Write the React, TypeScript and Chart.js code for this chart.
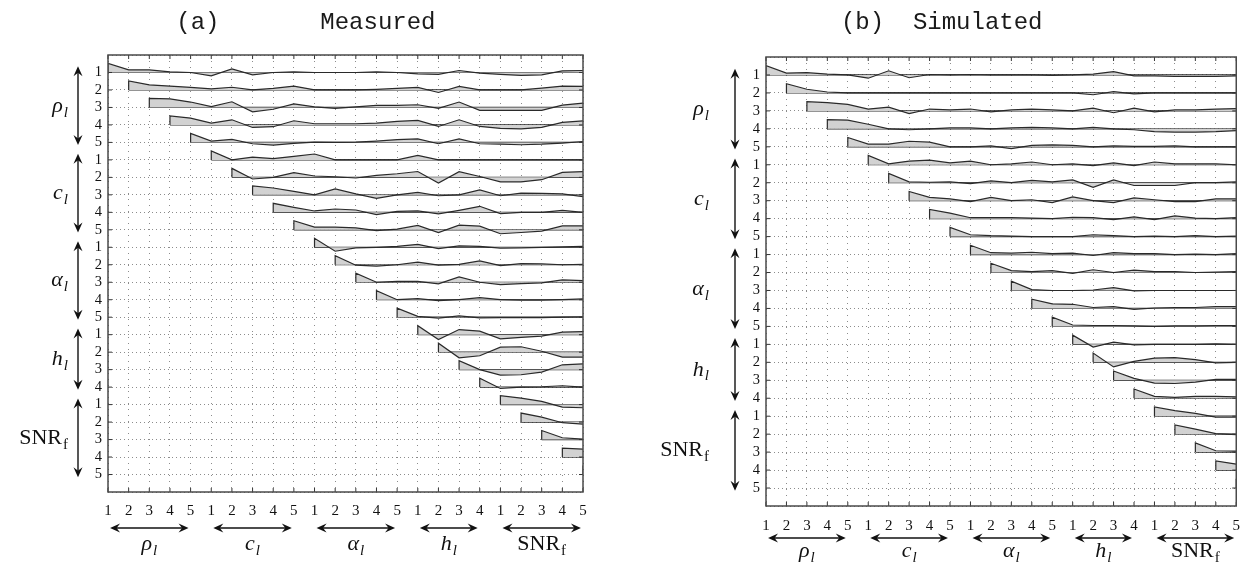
import { useEffect, useRef } from "react";
import { Chart, registerables } from "chart.js";

Chart.register(...registerables);

// ---------- data ----------
const groupBases = ["ρ", "c", "α", "h", "SNR"];
const groupSubs = ["l", "l", "l", "l", "f"];
const groupItalic = [true, true, true, true, false];
const groupSizes = [5, 5, 5, 4, 5];
const tickLabels = [
  "1", "2", "3", "4", "5",
  "1", "2", "3", "4", "5",
  "1", "2", "3", "4", "5",
  "1", "2", "3", "4",
  "1", "2", "3", "4", "5",
];

// row r holds the profile values for columns r..23 (diagonal = 1)
const measuredRows: number[][] = [
  [1, 0.3, 0.3, 0.07, 0, -0.37, 0.4, -0.26, 0, 0.07, 0, 0, 0, 0.07, 0, -0.15, -0.22, 0.22, -0.07, -0.22, -0.33, -0.26, 0.18, 0.22],
  [1, 0.57, 0.43, 0.28, 0.13, 0.3, 0, 0.17, 0.43, 0, 0, 0, 0.07, 0.17, 0.28, -0.28, 0.39, 0, 0, 0, 0.2, 0.43, 0.39],
  [1, 0.96, 0.6, 0.1, 0.63, -0.48, -0.2, 0.4, 0.07, -0.1, 0.07, 0.22, 0.22, 0.3, -0.1, 0.6, -0.33, -0.33, -0.33, -0.33, 0.26, 0.48],
  [1, 0.76, 0.2, 0.57, -0.28, -0.2, 0.46, 0.13, 0.13, 0.13, 0.2, 0.39, 0.5, -0.17, 0.57, -0.17, -0.39, -0.43, -0.28, 0.28, 0.46],
  [1, 0.15, 0.33, -0.15, -0.3, -0.1, 0.04, 0, 0.04, 0.15, 0.3, 0.4, -0.15, 0.4, -0.15, -0.2, -0.26, -0.2, -0.07, 0.1],
  [1, 0, 0.3, 0.13, 0.39, 0.65, 0, 0, 0, 0, 0.5, 0, 0, 0, 0, 0, 0, 0, 0],
  [1, -0.18, 0, 0.52, 0.15, 0.07, -0.07, 0.22, 0.4, 0.65, -0.63, 0.63, 0.1, -0.5, -0.5, -0.26, 0.55, 0.63],
  [1, 0.76, 0.39, 0, 0.65, 0.1, -0.39, 0, 0.28, -0.1, 0, 0.54, -0.1, 0.2, 0.17, 0.1, -0.2],
  [1, 0.55, 0.15, 0.37, 0.26, -0.26, 0.1, 0.15, -0.18, 0.22, 0.67, -0.15, 0, 0, 0.22, 0],
  [1, 0.3, 0.3, 0.22, -0.1, 0.07, 0.48, -0.3, 0.52, 0.4, -0.44, -0.3, -0.15, 0.44, 0.44],
  [1, -0.44, -0.07, 0, 0.1, 0.33, -0.15, 0.15, 0.1, -0.1, -0.07, 0, 0.04, 0.1],
  [1, -0.05, -0.15, 0, 0.3, -0.05, 0.05, 0.42, -0.1, 0.13, 0.1, 0, 0.05],
  [1, 0, 0.1, 0.1, -0.18, 0.6, 0, -0.26, -0.15, -0.07, 0.26, 0.18],
  [1, 0, 0.12, -0.1, 0, 0.24, 0, -0.05, -0.05, 0, 0.1],
  [1, 0.1, -0.1, 0.15, -0.07, -0.05, -0.04, -0.04, 0, 0.04],
  [1, -0.54, 0.57, 0.39, -0.46, -0.3, -0.17, 0.28, 0.35],
  [1, -0.63, -0.4, 0.55, 0.6, 0.1, -0.55, -0.55],
  [1, 0, -0.6, -0.57, -0.28, 0.54, 0.65],
  [1, -0.15, 0, 0.04, 0.15, 0],
  [1, 0.72, 0.35, -0.28, -0.35],
  [1, 0.55, -0.07, -0.22],
  [1, 0.2, 0.05],
  [1, 0.88],
  [1],
];

const simulatedRows: number[][] = [
  [1, 0.2, 0.25, 0.1, 0, -0.35, 0.45, -0.3, 0.05, 0, 0.05, 0, 0, 0, -0.05, 0, 0.1, 0.35, -0.1, -0.1, -0.15, -0.15, -0.15, -0.1],
  [1, 0.4, 0.1, 0, 0, 0, 0, 0, 0, 0, 0, 0, 0, 0, 0, -0.2, 0.15, -0.1, 0, 0, 0, 0, 0],
  [1, 0.9, 0.7, 0.2, 0.4, -0.3, 0.2, 0.1, 0.2, -0.1, 0.1, 0.2, 0.1, 0, 0.3, -0.2, 0.3, -0.1, 0.1, 0.1, 0.2, 0.25],
  [1, 0.95, 0.5, 0, -0.1, 0, 0.1, 0.1, 0, 0.1, 0.15, 0.1, 0, 0.15, 0, -0.1, -0.3, -0.35, -0.35, -0.3, -0.2],
  [1, 0.3, 0.3, 0.6, 0.5, 0, 0, 0.1, -0.2, 0.15, 0.2, 0.15, 0, 0.1, 0.05, 0.05, 0.1, 0, 0, 0],
  [1, 0.1, 0.4, 0.5, 0.2, 0.4, 0, 0.1, 0.3, 0, 0.1, -0.1, 0.2, -0.1, 0.3, 0.1, 0.1, 0.1, 0],
  [1, 0.1, 0.05, 0.1, -0.1, 0.2, 0, 0.25, 0.1, 0.3, -0.5, 0.3, -0.3, -0.3, -0.3, 0, 0, 0.1],
  [1, 0.35, 0.2, -0.1, 0.35, 0, 0.1, -0.2, 0.4, 0, -0.2, 0.3, 0.1, -0.1, -0.1, 0.2, 0.2],
  [1, 0.6, 0.1, 0.1, 0.1, 0.05, 0, 0.15, 0.1, -0.1, 0.2, -0.1, 0.3, 0.05, 0, 0.1],
  [1, 0.2, 0.1, 0.05, 0, 0, 0, 0.2, 0.1, 0, 0.05, 0, 0.1, 0, 0.05],
  [1, 0.2, 0.15, 0.25, 0.1, 0.15, -0.1, 0.2, 0.1, 0.1, 0, 0.05, 0, 0.1],
  [1, 0.2, 0.1, 0.2, -0.1, 0.3, 0, 0.25, 0.1, 0.1, 0, 0.05, 0.1],
  [1, 0.1, 0, 0, 0.05, 0.3, -0.05, 0, 0, 0, 0, 0],
  [1, 0.5, 0.45, 0.1, 0.2, -0.1, 0.05, 0.1, 0.1, 0.2, 0.2],
  [1, 0.15, 0.1, 0.1, 0.05, 0, 0.05, 0.05, 0.1, 0.1],
  [1, -0.3, 0.25, -0.05, 0, 0, 0, 0.05, 0],
  [1, -0.5, 0.1, 0.45, 0.5, 0.3, -0.05, 0],
  [1, 0.2, -0.3, -0.35, -0.2, 0.1, 0.1],
  [1, 0.2, 0.1, 0.2, 0.2, 0.15],
  [1, 0.6, 0.3, -0.1, -0.1],
  [1, 0.55, 0.05, -0.05],
  [1, 0.15, 0.1],
  [1, 0.65],
  [1],
];

// ---------- styling ----------
const PROFILE_SCALE = 0.515; // rows per unit of correlation
const FILL = "#d2d2d2";
const LINE = "#2a2a2a";
const GRID = "#8c8c8c";
const SERIF = '"Liberation Serif", "DejaVu Serif", serif';

function buildDatasets(rows: number[][]) {
  const ds: any[] = [];
  rows.forEach((vals, r) => {
    const pts = [{ x: r, y: r }, ...vals.map((v, j) => ({ x: r + j, y: r - PROFILE_SCALE * v }))];
    ds.push({
      data: pts,
      fill: { value: r },
      backgroundColor: FILL,
      borderColor: LINE,
      borderWidth: 1.2,
      pointRadius: 0,
      tension: 0,
    });
    ds.push({
      data: [{ x: r, y: r }, { x: rows.length - 1, y: r }],
      fill: false,
      borderColor: LINE,
      borderWidth: 1.2,
      pointRadius: 0,
    });
  });
  return ds;
}

function drawArrow(ctx: CanvasRenderingContext2D, x1: number, y1: number, x2: number, y2: number) {
  const ang = Math.atan2(y2 - y1, x2 - x1);
  const L = 10, W = 4.5, N = 6.5;
  const head = (tx: number, ty: number, a: number) => {
    const c = Math.cos(a), s = Math.sin(a);
    ctx.beginPath();
    ctx.moveTo(tx, ty);
    ctx.lineTo(tx - L * c - W * s, ty - L * s + W * c);
    ctx.lineTo(tx - N * c, ty - N * s);
    ctx.lineTo(tx - L * c + W * s, ty - L * s - W * c);
    ctx.closePath();
    ctx.fill();
  };
  ctx.beginPath();
  ctx.moveTo(x1 + 5 * Math.cos(ang), y1 + 5 * Math.sin(ang));
  ctx.lineTo(x2 - 5 * Math.cos(ang), y2 - 5 * Math.sin(ang));
  ctx.stroke();
  head(x2, y2, ang);
  head(x1, y1, ang + Math.PI);
}

function drawGroupLabel(ctx: CanvasRenderingContext2D, g: number, x: number, y: number, align: string, size: number) {
  const it = groupItalic[g] ? "italic " : "";
  const bf = `${it}${size}px ${SERIF}`;
  const sf = `${it}${Math.round(size * 0.68)}px ${SERIF}`;
  ctx.font = bf;
  const wb = ctx.measureText(groupBases[g]).width;
  ctx.font = sf;
  const ws = ctx.measureText(groupSubs[g]).width;
  const total = wb + ws + 1;
  const x0 = align === "right" ? x - total : x - total / 2;
  ctx.textAlign = "left";
  ctx.textBaseline = "alphabetic";
  ctx.font = bf;
  ctx.fillText(groupBases[g], x0, y);
  ctx.font = sf;
  ctx.fillText(groupSubs[g], x0 + wb + 1, y + size * 0.22);
}

const decorPlugin = {
  id: "decor",
  afterDraw(chart: any, _args: any, opts: any) {
    const { ctx, chartArea: a, scales } = chart;
    const xs = scales.x, ys = scales.y;
    const n = tickLabels.length;
    ctx.save();
    // inner tick marks
    ctx.strokeStyle = "#333";
    ctx.lineWidth = 1;
    ctx.beginPath();
    for (let i = 0; i < n; i++) {
      const px = xs.getPixelForValue(i);
      ctx.moveTo(px, a.top);
      ctx.lineTo(px, a.top + 4);
      ctx.moveTo(px, a.bottom);
      ctx.lineTo(px, a.bottom - 4);
      const py = ys.getPixelForValue(i);
      ctx.moveTo(a.left, py);
      ctx.lineTo(a.left + 4, py);
      ctx.moveTo(a.right, py);
      ctx.lineTo(a.right - 4, py);
    }
    ctx.stroke();
    // frame
    ctx.strokeStyle = "#4a4a4a";
    ctx.lineWidth = 1.5;
    ctx.strokeRect(a.left, a.top, a.right - a.left, a.bottom - a.top);
    // group arrows and labels
    ctx.fillStyle = "#111";
    ctx.strokeStyle = "#111";
    ctx.lineWidth = 1.4;
    let start = 0;
    groupSizes.forEach((size, g) => {
      const end = start + size - 1;
      const ax = a.left - opts.leftArrow;
      const y1 = ys.getPixelForValue(start - 0.35);
      const y2 = ys.getPixelForValue(end + 0.15);
      drawArrow(ctx, ax, y1, ax, y2);
      drawGroupLabel(ctx, g, a.left - opts.leftLabel, (y1 + y2) / 2 + 6, "right", 22);
      const bx1 = xs.getPixelForValue(start + 0.1);
      const bx2 = xs.getPixelForValue(end - 0.1);
      const by = a.bottom + opts.bottomArrow;
      drawArrow(ctx, bx1, by, bx2, by);
      drawGroupLabel(ctx, g, (bx1 + bx2) / 2, a.bottom + opts.bottomLabel, "center", 22);
      start += size;
    });
    ctx.restore();
  },
};

function makeConfig(rows: number[][], title: string, p: any) {
  const n = tickLabels.length;
  return {
    type: "line" as const,
    data: { datasets: buildDatasets(rows) },
    plugins: [decorPlugin],
    options: {
      animation: false as const,
      responsive: false,
      devicePixelRatio: 1,
      layout: { padding: { left: 0, right: p.padRight, top: 0, bottom: 0 } },
      plugins: {
        legend: { display: false },
        tooltip: { enabled: false },
        title: {
          display: true,
          text: title,
          color: "#1a1a1a",
          font: { family: '"Liberation Mono", "DejaVu Sans Mono", monospace', size: p.titleSize, weight: "normal" as const },
          padding: { top: p.titleTop, bottom: p.titleBottom },
        },
        decor: p.decor,
      },
      scales: {
        x: {
          type: "linear" as const,
          min: 0,
          max: n - 1,
          afterFit: (s: any) => { s.height = p.xAxisHeight; },
          afterBuildTicks: (s: any) => { s.ticks = tickLabels.map((_, i) => ({ value: i })); },
          ticks: {
            autoSkip: false,
            maxRotation: 0,
            padding: p.xTickPad,
            color: "#111",
            font: { family: SERIF, size: 15 },
            callback: (v: any) => tickLabels[v] ?? "",
          },
          grid: { color: GRID, lineWidth: 1, drawTicks: false },
          border: { display: false, dash: [1, 5] },
        },
        y: {
          type: "linear" as const,
          min: -1,
          max: n,
          reverse: true,
          afterFit: (s: any) => { s.width = p.yAxisWidth; },
          afterBuildTicks: (s: any) => {
            const t = [];
            for (let i = -1; i <= n; i++) t.push({ value: i });
            s.ticks = t;
          },
          ticks: {
            autoSkip: false,
            padding: p.yTickPad,
            color: "#111",
            font: { family: SERIF, size: 14.5 },
            callback: (v: any) => tickLabels[v] ?? "",
          },
          grid: { color: GRID, lineWidth: 1, drawTicks: false },
          border: { display: false, dash: [1, 3] },
        },
      },
    },
  };
}

function Panel(props: { rows: number[][]; title: string; left: number; width: number; p: any }) {
  const ref = useRef<HTMLCanvasElement | null>(null);
  useEffect(() => {
    if (!ref.current) return;
    const chart = new Chart(ref.current, makeConfig(props.rows, props.title, props.p) as any);
    return () => chart.destroy();
  }, []);
  return (
    <canvas
      ref={ref}
      width={props.width}
      height={570}
      style={{ position: "absolute", left: props.left, top: 0, width: props.width, height: 570 }}
    />
  );
}

const measuredParams = {
  padRight: 37,
  titleSize: 24,
  titleTop: 8,
  titleBottom: 18.2,
  xAxisHeight: 78,
  yAxisWidth: 108,
  xTickPad: 10,
  yTickPad: 6,
  decor: { leftArrow: 30, leftLabel: 40, bottomArrow: 36, bottomLabel: 58 },
};

const simulatedParams = {
  padRight: 12,
  titleSize: 24,
  titleTop: 8,
  titleBottom: 20.2,
  xAxisHeight: 64,
  yAxisWidth: 136,
  xTickPad: 11,
  yTickPad: 6,
  decor: { leftArrow: 31, leftLabel: 57, bottomArrow: 32, bottomLabel: 51 },
};

export default function App() {
  return (
    <div style={{ position: "absolute", left: 0, top: 0, width: 1251, height: 570, background: "#fff" }}>
      <Panel rows={measuredRows} title={"  (a)       Measured"} left={0} width={620} p={measuredParams} />
      <Panel rows={simulatedRows} title={" (b)  Simulated"} left={630} width={621} p={simulatedParams} />
    </div>
  );
}
